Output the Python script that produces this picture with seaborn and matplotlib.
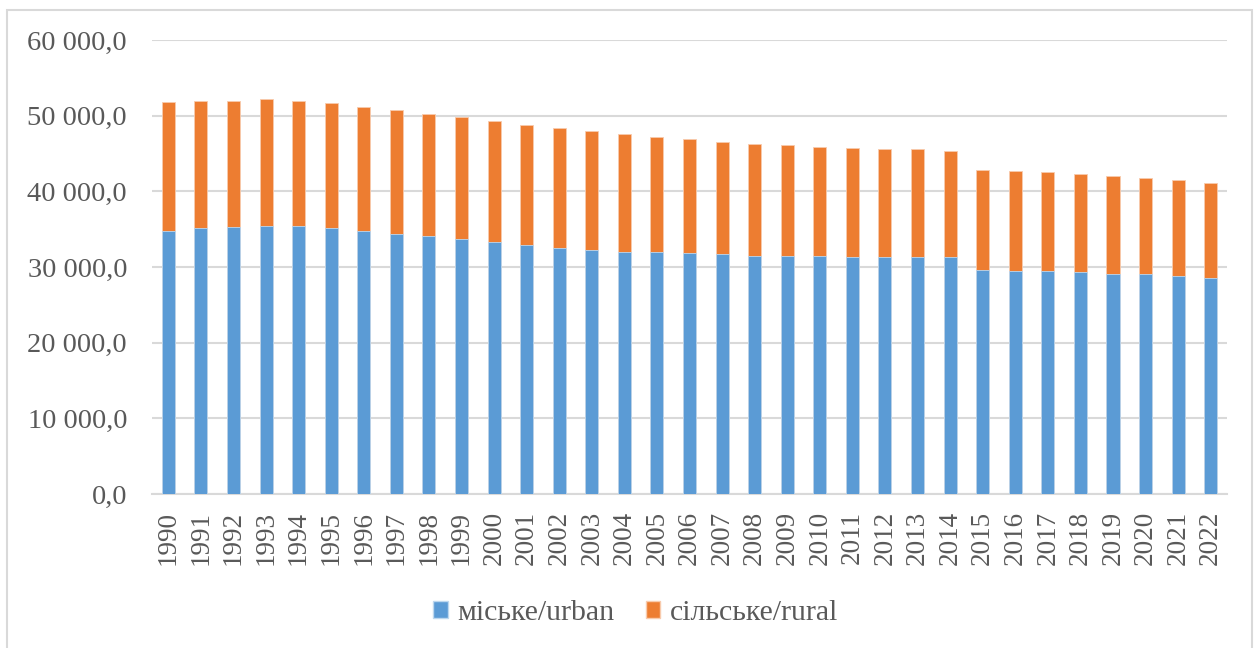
import numpy as np
import pandas as pd
import matplotlib
matplotlib.use("Agg")
import matplotlib.pyplot as plt
from matplotlib.patches import Patch, Rectangle
from matplotlib.ticker import FuncFormatter
import seaborn as sns

years = [str(y) for y in range(1990, 2023)]
urban = [34710, 35100, 35240, 35410, 35410, 35100, 34710, 34400, 34090, 33740,
         33260, 32860, 32560, 32200, 32030, 32030, 31850, 31670, 31450, 31450,
         31450, 31320, 31320, 31320, 31320, 29600, 29420, 29420, 29290, 29120,
         29120, 28810, 28590]
rural = [17100, 16780, 16740, 16750, 16570, 16580, 16440, 16350, 16170, 16040,
         15990, 15910, 15860, 15730, 15560, 15200, 15020, 14900, 14820, 14630,
         14460, 14420, 14240, 14240, 14060, 13210, 13260, 13080, 13040, 12850,
         12680, 12680, 12510]
labels = ["міське/urban", "сільське/rural"]
yticks = [0, 10000, 20000, 30000, 40000, 50000, 60000]

BLUE = "#5B9BD5"
ORANGE = "#ED7D31"
TXT = "#595959"
GRID = "#D9D9D9"

sns.set_theme(style="white")
plt.rcParams["font.family"] = ["Liberation Serif", "DejaVu Serif"]

df = pd.DataFrame({"year": years, "urban": urban, "rural": rural})
df["total"] = df["urban"] + df["rural"]

fig = plt.figure(figsize=(12.59, 6.48), dpi=100)
ax = fig.add_axes([152 / 1259, 1 - 494 / 648, (1227 - 152) / 1259, (494 - 40) / 648])

sns.barplot(data=df, x="year", y="total", color=ORANGE, saturation=1, width=0.4,
            ax=ax, edgecolor="#F8CBAD", linewidth=0.6, zorder=2)
sns.barplot(data=df, x="year", y="urban", color=BLUE, saturation=1, width=0.4,
            ax=ax, edgecolor="#BDD7EE", linewidth=0.6, zorder=3)

ax.set_xlim(-0.5, len(years) - 0.5)
ax.set_ylim(0, 60000)
ax.set_yticks(yticks)

def fmt(v, pos):
    s = f"{v:,.1f}".replace(",", " ").replace(".", ",")
    return s

ax.yaxis.set_major_formatter(FuncFormatter(fmt))
ax.grid(axis="y", color=GRID, linewidth=1.5, zorder=0)
ax.set_axisbelow(True)
for s in ["top", "right", "left"]:
    ax.spines[s].set_visible(False)
ax.spines["bottom"].set_color(GRID)
ax.spines["bottom"].set_linewidth(1.5)
ax.tick_params(axis="both", length=0, colors=TXT)
ax.tick_params(axis="y", pad=18, labelsize=20.5)
ax.tick_params(axis="x", pad=12, labelsize=19.5)
plt.setp(ax.get_xticklabels(), rotation=90)
ax.set_xlabel("")
ax.set_ylabel("")

handles = [Patch(facecolor=BLUE, edgecolor="#BDD7EE"), Patch(facecolor=ORANGE, edgecolor="#F8CBAD")]
fig.legend(handles, labels, loc="center", bbox_to_anchor=(0.5 + 6 / 1259, 1 - 613 / 648), ncol=2,
           frameon=False, fontsize=21.5, labelcolor=TXT, handlelength=0.5, handleheight=0.5,
           handletextpad=0.3, columnspacing=1.05)

fig.patches.append(Rectangle((7 / 1259, -0.05), (1252 - 7) / 1259, 1 - 10 / 648 + 0.05,
                             transform=fig.transFigure, fill=False, edgecolor=GRID,
                             linewidth=1.5, zorder=0))

fig.savefig("out.png", dpi=100)
